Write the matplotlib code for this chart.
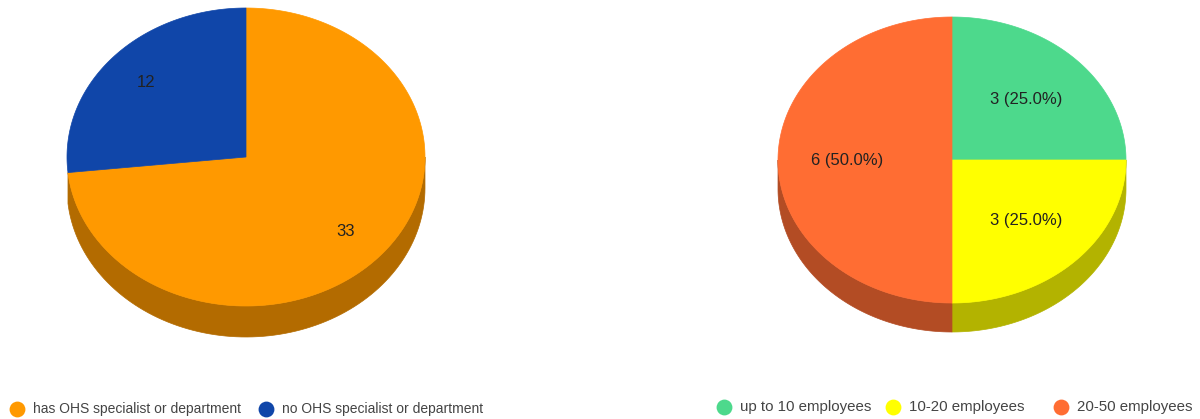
import numpy as np
import matplotlib.pyplot as plt
from matplotlib.patches import Polygon

plt.rcParams['font.family'] = ['Liberation Sans', 'DejaVu Sans']

# left chart data
ohs_labels = ["has OHS specialist or department", "no OHS specialist or department"]
ohs_values = [33, 12]
ohs_colors = ["#FF9900", "#1046A9"]

# right chart data
size_labels = ["up to 10 employees", "10-20 employees", "20-50 employees"]
size_values = [3, 3, 6]
size_colors = ["#4DD98C", "#FFFF00", "#FF6D33"]


def darken(c, f=0.7):
    r, g, b = [int(c[i:i + 2], 16) / 255 for i in (1, 3, 5)]
    return (r * f, g * f, b * f)


def ell(cx, cy, rx, ry, t):
    # t = clockwise angle from 12 o'clock, degrees
    t = np.radians(t)
    return cx + rx * np.sin(t), cy - ry * np.cos(t)


def pie3d(ax, values, colors, cx, cy, rx, ry, depth, lab_r, fmt):
    values = np.asarray(values, float)
    tot = values.sum()
    bounds = np.concatenate([[0], np.cumsum(values) / tot * 360])
    # side walls (visible front half only)
    for i in range(len(values)):
        a0, a1 = max(bounds[i], 90), min(bounds[i + 1], 270)
        if a1 - a0 < 10:   # tiny slivers at the edge are not drawn
            continue
        t = np.linspace(a0, a1, 100)
        x, y = ell(cx, cy, rx, ry, t)
        pts = np.vstack([np.column_stack([x, y]),
                         np.column_stack([x[::-1], y[::-1] + depth])])
        ax.add_patch(Polygon(pts, closed=True, fc=darken(colors[i]),
                             ec=darken(colors[i]), lw=0.5))
    # top faces
    for i in range(len(values)):
        t = np.linspace(bounds[i], bounds[i + 1], 200)
        x, y = ell(cx, cy, rx, ry, t)
        pts = np.vstack([[cx, cy], np.column_stack([x, y])])
        ax.add_patch(Polygon(pts, closed=True, fc=colors[i], ec=colors[i], lw=0.5))
        mid = (bounds[i] + bounds[i + 1]) / 2
        lx, ly = ell(cx, cy, rx * lab_r, ry * lab_r, mid)
        ax.text(lx, ly, fmt(values[i], values[i] / tot), ha='center', va='center',
                fontsize=12, color='#222222')


def legend(ax, labels, colors, xs, y, fs):
    for lab, col, x in zip(labels, colors, xs):
        ax.scatter([x], [y], s=130, color=col, lw=0)
        ax.text(x + 16, y, lab, ha='left', va='center', fontsize=fs, color='#444444')


fig = plt.figure(figsize=(12, 4.19), dpi=100)
ax = fig.add_axes([0, 0, 1, 1])
ax.set_xlim(0, 1200)
ax.set_ylim(419, 0)
ax.axis('off')

pie3d(ax, ohs_values, ohs_colors, 246, 157, 179, 149, 31, 0.75,
      lambda v, p: f"{v:.0f}")
pie3d(ax, size_values, size_colors, 952, 160, 174, 143, 29, 0.6,
      lambda v, p: f"{v:.0f} ({p * 100:.1f}%)")

legend(ax, ohs_labels, ohs_colors, [17, 266], 409, 10)
legend(ax, size_labels, size_colors, [724, 893, 1061], 407, 10.8)

fig.savefig("out.png", dpi=100, facecolor='white')
